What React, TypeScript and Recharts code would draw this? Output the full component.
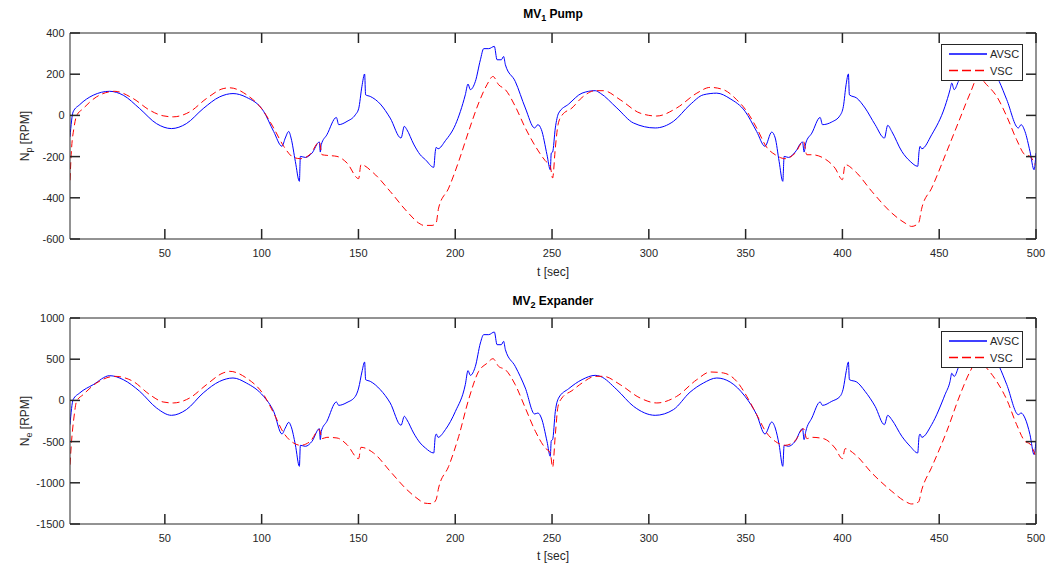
import { Line, LineChart, XAxis, YAxis } from "recharts";

// AVSC samples (same instants for both panels)
const tAvsc = [
  1, 2.6, 6, 13, 21.5, 28.5, 37, 45.7, 53.4, 61.1,
  69.8, 78.3, 85.2, 92.1, 101, 106.2, 110.5, 112.2, 114, 115.2,
  117.4, 119.5, 120, 122.6, 126, 129.8, 130.3, 130.8, 133.7, 138.6,
  139.8, 144.1, 148.4, 150.1, 151.8, 153.2, 153.7, 156.1, 161.3, 166.4,
  172, 173.7, 175, 178.5, 181.9, 184.6, 188.9, 189.7, 190.2, 191.1,
  194.9, 200.1, 205.2, 206.6, 207.8, 210.4, 213, 214.7, 217.3, 220.2,
  221.6, 223.8, 225, 225.9, 231, 236.2, 241, 242.7, 244.5, 247.4,
  249.1, 249.6, 250.3, 251.7, 253.4, 258.6, 265.5, 272.3, 274.9, 283.5,
  292.1, 303.3, 312.7, 321.3, 328.2, 335.1, 342, 349.7, 355.7, 360,
  363.5, 365.3, 367.3, 369.2, 369.9, 372.1, 375.6, 379.4, 380.2, 381.1,
  384.2, 388.5, 389.7, 394.5, 398.8, 400.5, 401.9, 403.1, 403.6, 407.4,
  411.7, 416.9, 421.7, 423.4, 425.5, 430.7, 435, 438.9, 439.6, 440.1,
  441, 446.1, 453, 455.6, 456.5, 457.7, 459.9, 463.9, 465.5, 468,
  470.5, 471.8, 474, 475.2, 476.1, 481, 484.9, 490.9, 492.3, 494.3,
  496.9, 499, 500,
];
const avscPump = [
  -104, 17, 52, 98, 117, 98, 33, -40, -64, -40,
  33, 90, 106, 88, 20, -78, -150, -110, -78, -110,
  -223, -320, -199, -204, -183, -129, -178, -142, -94, -10,
  -45, -29, 3, 32, 141, 201, 100, 92, 55, -13,
  -110, -53, -69, -139, -191, -215, -252, -175, -155, -162,
  -123, -45, 100, 152, 125, 165, 270, 324, 324, 335,
  270, 270, 286, 246, 165, 36, -61, -45, -69, -191,
  -264, -183, -178, -61, 11, 55, 108, 120, 108, 36,
  -37, -61, -29, 52, 100, 108, 81, 20, -78, -150,
  -81, -110, -223, -320, -199, -204, -178, -129, -178, -134,
  -86, -10, -45, -32, 0, 44, 149, 201, 100, 84,
  36, -45, -110, -48, -78, -175, -223, -247, -175, -150,
  -162, -94, 44, 125, 157, 125, 165, 270, 324, 324,
  335, 270, 270, 286, 246, 165, 76, -61, -45, -78,
  -175, -264, -183,
];
const avscExpander = [
  -294, 9, 90, 191, 300, 252, 110, -92, -181, -112,
  90, 231, 272, 211, 49, -133, -408, -335, -266, -315,
  -537, -800, -545, -557, -497, -343, -476, -375, -254, -19,
  -60, -25, 49, 150, 345, 466, 252, 231, 130, -31,
  -302, -193, -234, -396, -517, -578, -638, -436, -408, -448,
  -355, -133, 191, 361, 304, 413, 697, 798, 798, 830,
  676, 676, 717, 616, 413, 150, -165, -153, -214, -497,
  -679, -489, -476, -133, 29, 142, 252, 304, 292, 130,
  -72, -181, -112, 100, 211, 272, 223, 49, -173, -408,
  -262, -335, -537, -800, -545, -557, -497, -343, -476, -375,
  -214, -19, -60, -11, 49, 150, 345, 466, 252, 223,
  110, -72, -294, -181, -234, -436, -557, -638, -436, -408,
  -448, -294, 70, 230, 330, 290, 400, 697, 798, 798,
  830, 676, 676, 717, 616, 413, 191, -173, -153, -214,
  -416, -658, -497,
];

// VSC samples
const tVsc = [
  1, 1.8, 3, 4.4, 7.8, 14.7, 24.1, 33.6, 42.2, 49.1,
  54.3, 62.8, 71.5, 80.1, 83.5, 92.1, 101, 106.2, 111.4, 116.5,
  120, 125.1, 129.8, 131.2, 133.7, 138.9, 144.1, 150.1, 151.3, 157.8,
  166.4, 175, 181.9, 183.7, 188, 190.1, 191.4, 196.6, 201.8, 206.9,
  212.1, 216.4, 219.5, 222.4, 225.9, 231, 236.2, 241.4, 246.5, 249.1,
  250.3, 251.7, 253.1, 255.1, 260.3, 265.5, 272.3, 276.6, 285.2, 295.5,
  304.1, 314.4, 324.8, 331.7, 338.5, 345.4, 350.6, 355.7, 360.9, 365.3,
  370.4, 375.6, 379.9, 381.6, 384.2, 390.2, 396.2, 400, 401.4, 406.6,
  415.2, 425.5, 432.4, 435.8, 439.3, 441, 446.1, 453.9, 460.8, 466,
  470.2, 474.5, 479.7, 484.9, 490, 494.3, 496.9, 499.5,
];
const vscPump = [
  -315, -161, -64, -2, 33, 90, 117, 82, 25, -2,
  -7, 17, 82, 130, 134, 101, 20, -61, -150, -204,
  -210, -188, -129, -191, -194, -199, -231, -307, -239, -280,
  -369, -466, -527, -534, -534, -523, -450, -353, -223, -78,
  60, 149, 189, 149, 125, 44, -61, -150, -220, -247,
  -304, -158, -45, 0, 36, 87, 120, 120, 76, 11,
  -3, 36, 108, 136, 125, 76, 20, -61, -155, -191,
  -210, -183, -126, -191, -191, -207, -256, -312, -239, -272,
  -369, -474, -523, -539, -523, -450, -353, -175, -13, 108,
  187, 149, 92, -5, -118, -191, -199, -239,
];
const vscExpander = [
  -780, -497, -214, -11, 70, 211, 292, 231, 70, -19,
  -31, 29, 191, 333, 353, 272, 70, -153, -396, -517,
  -545, -497, -355, -464, -448, -456, -537, -707, -569, -638,
  -861, -1083, -1217, -1245, -1253, -1205, -1063, -800, -436, 9,
  353, 450, 506, 413, 373, 191, -92, -375, -578, -638,
  -812, -416, -72, 29, 118, 211, 292, 292, 191, 29,
  -31, 49, 252, 345, 333, 231, 49, -173, -396, -497,
  -545, -489, -343, -464, -448, -464, -578, -707, -586, -658,
  -881, -1103, -1225, -1257, -1233, -1083, -812, -375, 70, 353,
  500, 393, 231, 9, -294, -497, -529, -658,
];

const xTicks = [50, 100, 150, 200, 250, 300, 350, 400, 450, 500];
const pumpTicks = [-600, -400, -200, 0, 200, 400];
const expanderTicks = [-1500, -1000, -500, 0, 500, 1000];
const seriesNames = ["AVSC", "VSC"];

const AXIS = "#262626";
const BLUE = "#0000ff";
const RED = "#ff0000";
const DASH = "7 4";
const FONT = '"Liberation Sans", Arial, Helvetica, sans-serif';
const TICK_LEN = 10;
const TICK_W = 1.5;
const PLOT_W = 966;
const PLOT_H = 206;

const toRows = (ts: number[], vs: number[]) => ts.map((t, i) => ({ t, v: vs[i] }));

// inward tick marks, MATLAB style (the top axis also marks the bottom edge,
// the right axis also marks the left edge)
function TopTick(props: any) {
  const x = Number(props.x);
  const y = Number(props.y);
  return (
    <g>
      <path d={`M${x},${y}V${y + TICK_LEN}`} stroke={AXIS} strokeWidth={TICK_W} fill="none" />
      <path
        d={`M${x},${y + PLOT_H}V${y + PLOT_H - TICK_LEN}`}
        stroke={AXIS}
        strokeWidth={TICK_W}
        fill="none"
      />
    </g>
  );
}

function RightTick(props: any) {
  const x = Number(props.x);
  const y = Number(props.y);
  return (
    <g>
      <path d={`M${x},${y}H${x - TICK_LEN}`} stroke={AXIS} strokeWidth={TICK_W} fill="none" />
      <path
        d={`M${x - PLOT_W},${y}H${x - PLOT_W + TICK_LEN}`}
        stroke={AXIS}
        strokeWidth={TICK_W}
        fill="none"
      />
    </g>
  );
}

function BottomLabel(props: any) {
  const { x, y, payload } = props;
  return (
    <text
      x={x}
      y={Number(y) + 10}
      dy="0.71em"
      textAnchor="middle"
      fill={AXIS}
      fontSize={11}
      fontFamily={FONT}
    >
      {payload.value}
    </text>
  );
}

function LeftLabel(props: any) {
  const { x, y, payload } = props;
  return (
    <text
      x={Number(x) - 5.5}
      y={y}
      dy="0.355em"
      textAnchor="end"
      fill={AXIS}
      fontSize={11}
      fontFamily={FONT}
    >
      {payload.value}
    </text>
  );
}

function LegendBox({ top }: { top: number }) {
  return (
    <svg
      width={82}
      height={37}
      style={{ position: "absolute", left: 941, top, overflow: "visible" }}
    >
      <rect
        x={0.5}
        y={0.5}
        width={81}
        height={36}
        fill="#fff"
        stroke={AXIS}
        strokeWidth={1}
        shapeRendering="crispEdges"
      />
      {seriesNames.map((name, i) => {
        const y = 10 + i * 16.5;
        return (
          <g key={name}>
            <line
              x1={8}
              x2={46}
              y1={y}
              y2={y}
              stroke={i === 0 ? BLUE : RED}
              strokeWidth={1.3}
              strokeDasharray={i === 0 ? undefined : "9 4"}
            />
            <text
              x={49}
              y={y}
              dominantBaseline="central"
              fontSize={11}
              fontFamily={FONT}
              fill={AXIS}
            >
              {name}
            </text>
          </g>
        );
      })}
    </svg>
  );
}

interface PanelProps {
  top: number;
  marginTop: number;
  xAxisHeight: number;
  titleTop: number;
  legendTop: number;
  titleSub: string;
  titleRest: string;
  ySub: string;
  yTicks: number[];
  avsc: number[];
  vsc: number[];
}

function Panel({
  top,
  marginTop,
  xAxisHeight,
  titleTop,
  legendTop,
  titleSub,
  titleRest,
  ySub,
  yTicks,
  avsc,
  vsc,
}: PanelProps) {
  const domain: [number, number] = [yTicks[0], yTicks[yTicks.length - 1]];
  const plotMid = marginTop + 1 + PLOT_H / 2;
  return (
    <div style={{ position: "absolute", left: 0, top, width: 1048, height: 284 }}>
      <LineChart
        width={1048}
        height={284}
        margin={{ top: marginTop, right: 11, bottom: 0, left: 0 }}
      >
        <XAxis
          xAxisId="b"
          type="number"
          dataKey="t"
          domain={[1, 500]}
          ticks={xTicks}
          interval={0}
          allowDataOverflow
          height={xAxisHeight}
          stroke={AXIS}
          tickLine={false}
          tickSize={0}
          tickMargin={0}
          tick={BottomLabel}
          label={{
            value: "t [sec]",
            position: "insideBottom",
            offset: 8,
            fill: AXIS,
            fontSize: 12,
            fontFamily: FONT,
          }}
        />
        <XAxis
          xAxisId="t"
          orientation="top"
          type="number"
          dataKey="t"
          domain={[1, 500]}
          ticks={xTicks}
          interval={0}
          allowDataOverflow
          height={1}
          stroke={AXIS}
          tickLine={false}
          tickSize={0}
          tickMargin={0}
          tick={TopTick}
        />
        <YAxis
          yAxisId="l"
          type="number"
          domain={domain}
          ticks={yTicks}
          interval={0}
          allowDataOverflow
          width={70}
          stroke={AXIS}
          tickLine={false}
          tickSize={0}
          tickMargin={0}
          tick={LeftLabel}
        />
        <YAxis
          yAxisId="r"
          orientation="right"
          type="number"
          domain={domain}
          ticks={yTicks}
          interval={0}
          allowDataOverflow
          width={1}
          stroke={AXIS}
          tickLine={false}
          tickSize={0}
          tickMargin={0}
          tick={RightTick}
        />
        <Line
          xAxisId="b"
          yAxisId="l"
          data={toRows(tAvsc, avsc)}
          dataKey="v"
          name={seriesNames[0]}
          type="monotone"
          stroke={BLUE}
          strokeWidth={1}
          dot={false}
          isAnimationActive={false}
        />
        <Line
          xAxisId="b"
          yAxisId="l"
          data={toRows(tVsc, vsc)}
          dataKey="v"
          name={seriesNames[1]}
          type="monotone"
          stroke={RED}
          strokeWidth={1}
          strokeDasharray={DASH}
          dot={false}
          isAnimationActive={false}
        />
      </LineChart>
      <div
        style={{
          position: "absolute",
          left: 553,
          top: titleTop,
          transform: "translateX(-50%)",
          fontFamily: FONT,
          fontSize: 12,
          fontWeight: "bold",
          color: "#000",
          whiteSpace: "nowrap",
          lineHeight: "14px",
        }}
      >
        MV<span style={{ fontSize: 9, position: "relative", top: 3 }}>{titleSub}</span>{" "}
        {titleRest}
      </div>
      <div
        style={{
          position: "absolute",
          left: 25,
          top: plotMid,
          transform: "translate(-50%, -50%) rotate(-90deg)",
          fontFamily: FONT,
          fontSize: 12,
          color: AXIS,
          whiteSpace: "nowrap",
          lineHeight: "14px",
        }}
      >
        N<span style={{ fontSize: 9, position: "relative", top: 3 }}>{ySub}</span> [RPM]
      </div>
      <LegendBox top={legendTop} />
    </div>
  );
}

export default function App() {
  return (
    <div
      style={{
        position: "absolute",
        left: 0,
        top: 0,
        width: 1048,
        height: 568,
        background: "#fff",
      }}
    >
      <Panel
        top={0}
        marginTop={32}
        xAxisHeight={45}
        titleTop={7}
        legendTop={44}
        titleSub="1"
        titleRest="Pump"
        ySub="p"
        yTicks={pumpTicks}
        avsc={avscPump}
        vsc={vscPump}
      />
      <Panel
        top={284}
        marginTop={33}
        xAxisHeight={44}
        titleTop={10}
        legendTop={47}
        titleSub="2"
        titleRest="Expander"
        ySub="e"
        yTicks={expanderTicks}
        avsc={avscExpander}
        vsc={vscExpander}
      />
    </div>
  );
}
